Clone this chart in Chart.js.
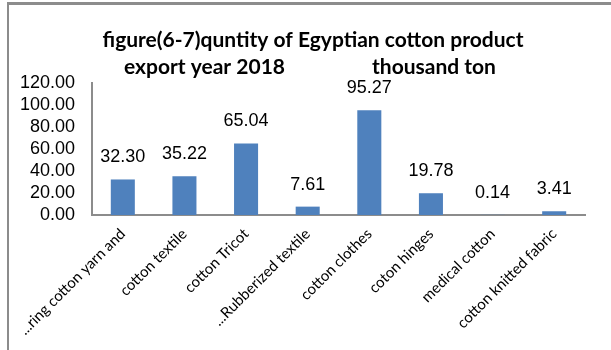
<!DOCTYPE html>
<html>
<head>
<meta charset="utf-8">
<script src="https://cdn.jsdelivr.net/npm/chart.js@4.4.1/dist/chart.umd.min.js"></script>
<style>
  body { margin: 0; background: #fff; }
  #wrap { position: relative; width: 611px; height: 350px; }
  #frame { position: absolute; left: 7px; top: 2px; right: 0; bottom: 0;
           border-top: 3px solid #8c8c8c; border-left: 2px solid #8c8c8c; pointer-events: none; }
</style>
</head>
<body>
<div id="wrap">
  <canvas id="chart"></canvas>
  <div id="frame"></div>
</div>
<script>
// --- data ---
const categories = ['...ring cotton yarn and', 'cotton textile', 'cotton Tricot', '...Rubberized textile',
                    'cotton clothes', 'coton hinges', 'medical cotton', 'cotton knitted fabric'];
const quantities = [32.30, 35.22, 65.04, 7.61, 95.27, 19.78, 0.14, 3.41];
const yTicks = [0, 20, 40, 60, 80, 100, 120];

const titleLine1 = 'figure(6-7)quntity of Egyptian cotton product';
const titleLine2a = 'export year 2018';
const titleLine2b = 'thousand ton';

// title drawn on the canvas
const titlePlugin = {
    id: 'titleText',
    afterDraw(chart) {
        const ctx = chart.ctx;
        ctx.save();
        ctx.fillStyle = '#000';
        ctx.font = 'bold 21px Lato';
        ctx.textBaseline = 'alphabetic';
        ctx.textAlign = 'center';
        ctx.fillText(titleLine1, 313, 47);
        ctx.textAlign = 'left';
        ctx.fillText(titleLine2a, 124, 74);
        ctx.fillText(titleLine2b, 372, 74);
        ctx.restore();
    }
};

// value labels above the bars
const valueLabels = {
    id: 'valueLabels',
    afterDatasetsDraw(chart) {
        const ctx = chart.ctx;
        const meta = chart.getDatasetMeta(0);
        ctx.save();
        ctx.fillStyle = '#000';
        ctx.font = '18px "Liberation Sans"';
        ctx.textAlign = 'center';
        ctx.textBaseline = 'middle';
        meta.data.forEach((bar, i) => {
            ctx.fillText(quantities[i].toFixed(2), bar.x, bar.y - 22);
        });
        ctx.restore();
    }
};

new Chart(document.getElementById('chart'), {
    type: 'bar',
    data: {
        labels: categories,
        datasets: [{
            data: quantities,
            backgroundColor: '#4f81bd',
            barPercentage: 0.39,
            categoryPercentage: 1
        }]
    },
    options: {
        responsive: true,
        maintainAspectRatio: false,
        animation: false,
        layout: { padding: { left: 8, right: 26, top: 83, bottom: 0 } },
        plugins: {
            legend: { display: false },
            tooltip: { enabled: false },
            title: { display: false }
        },
        scales: {
            x: {
                grid: { display: false, drawTicks: false },
                border: { display: true, color: '#8c8c8c', width: 2 },
                afterFit: scale => { scale.height = 135; },
                ticks: {
                    autoSkip: false,
                    maxRotation: 45,
                    minRotation: 45,
                    padding: 10,
                    color: '#000',
                    font: { family: 'Lato', size: 15 }
                }
            },
            y: {
                min: 0,
                max: 120,
                grid: { display: false, drawTicks: false },
                border: { display: true, color: '#8c8c8c', width: 2 },
                afterFit: scale => { scale.width = 84; },
                afterBuildTicks: scale => { scale.ticks = yTicks.map(v => ({ value: v })); },
                ticks: {
                    autoSkip: false,
                    padding: 17,
                    color: '#000',
                    font: { family: 'Liberation Sans', size: 18 },
                    callback: v => v.toFixed(2)
                }
            }
        }
    },
    plugins: [titlePlugin, valueLabels]
});
</script>
</body>
</html>
